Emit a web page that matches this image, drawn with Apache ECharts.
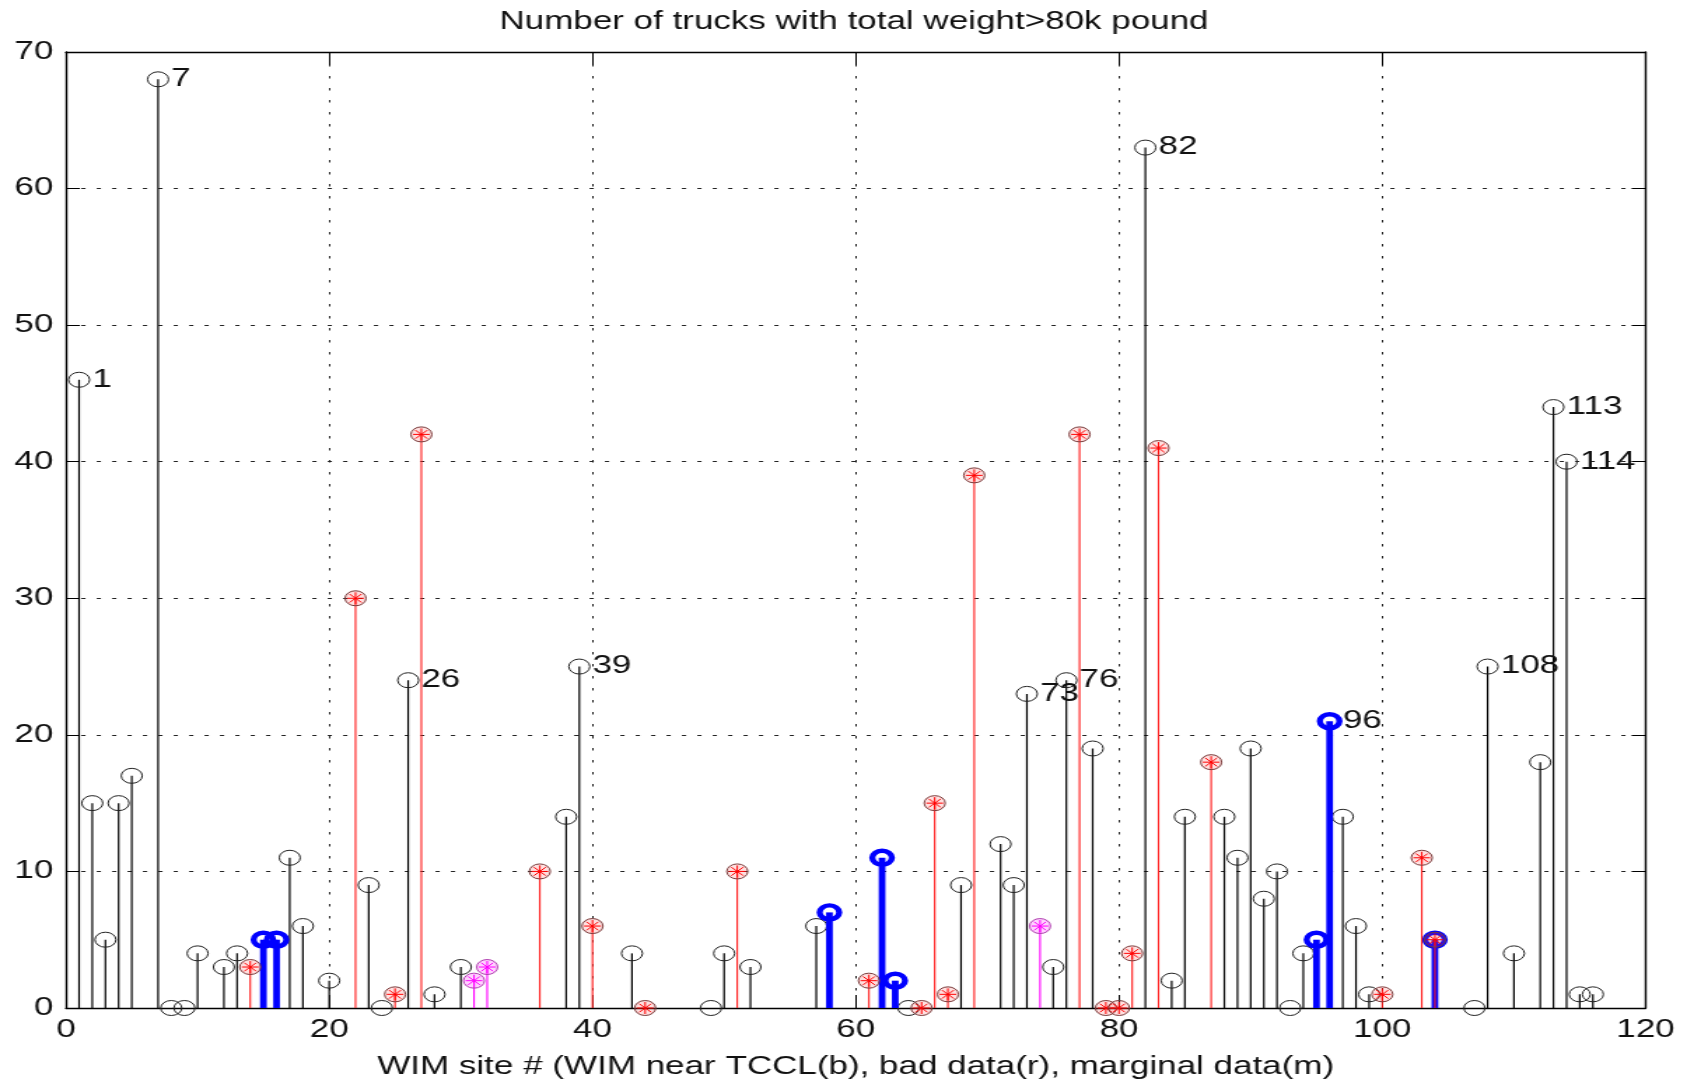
<!DOCTYPE html>
<html><head><meta charset="utf-8">
<script src="https://cdn.jsdelivr.net/npm/echarts@6.0.0/dist/echarts.min.js"></script>
<style>
html,body{margin:0;padding:0;background:#fff;overflow:hidden;width:1690px;height:1085px;}
#c{width:1207px;height:1085px;transform:scaleX(1.4);transform-origin:0 0;}
</style></head><body><div id="c"></div>
<script>
// ---- data (site number -> number of trucks) ----
const titleText = 'Number of trucks with total weight>80k pound';
const xAxisLabel = 'WIM site # (WIM near TCCL(b), bad data(r), marginal data(m)';

const blackSites  = [1,2,3,4,5,7,8,9,10,12,13,17,18,20,23,24,26,28,30,38,39,43,49,50,52,57,64,68,71,72,73,75,76,78,82,84,85,88,89,90,91,92,93,94,97,98,99,107,108,110,112,113,114,115,116];
const blackValues = [46,15,5,15,17,68,0,0,4,3,4,11,6,2,9,0,24,1,3,14,25,4,0,4,3,6,0,9,12,9,23,3,24,19,63,2,14,14,11,19,8,10,0,4,14,6,1,0,25,4,18,44,40,1,1];

const blueSites   = [15,16,58,62,63,95,96,104];
const blueValues  = [5,5,7,11,2,5,21,5];

const redSites    = [14,22,25,27,36,40,44,51,61,65,66,67,69,77,79,80,81,83,87,100,103,104];
const redValues   = [3,30,1,42,10,6,0,10,2,0,15,1,39,42,0,0,4,41,18,1,11,5];

const magentaSites  = [31,32,74];
const magentaValues = [2,3,6];

const labeledSites = [1,7,26,39,73,76,82,96,108,113,114];

const xMin = 0, xMax = 120, xStep = 20;
const yMin = 0, yMax = 70, yStep = 10;

// ---- build ----
const FONT = '"Liberation Sans", Arial, Helvetica, sans-serif';
const allSites = blackSites.concat(blueSites, redSites, magentaSites);
const allValues = blackValues.concat(blueValues, redValues, magentaValues);
function valueOf(s){ return allValues[allSites.indexOf(s)]; }

function makeStem(name, sites, values, st){
  return {
    type:'custom', name:name, xAxisIndex:0, yAxisIndex:0,
    data: sites.map((s,i)=>[s, values[i]]),
    encode:{x:0, y:1}, silent:true, animation:false, clip:false,
    renderItem:function(params, api){
      const x = api.value(0), y = api.value(1);
      const top = api.coord([x, y]), base = api.coord([x, 0]);
      const ch = [{type:'line', shape:{x1:base[0], y1:base[1], x2:top[0], y2:top[1]},
                   style:{stroke:st.stem, lineWidth:st.stemWidth}}];
      ch.push({type:'circle', shape:{cx:top[0], cy:top[1], r:st.r},
               style:{fill:st.fill || 'none', stroke:st.ring, lineWidth:st.ringWidth}});
      if (st.star){
        const a = st.starR;
        for (let k=0;k<4;k++){
          const ang = k*Math.PI/4;
          ch.push({type:'line', shape:{x1:top[0]-a*Math.cos(ang), y1:top[1]-a*Math.sin(ang),
                                        x2:top[0]+a*Math.cos(ang), y2:top[1]+a*Math.sin(ang)},
                   style:{stroke:st.star, lineWidth:1}});
        }
      }
      return {type:'group', children:ch};
    }
  };
}

const chart = echarts.init(document.getElementById('c'), null, {renderer:'canvas'});
const axisLineStyle = {color:'#000', width:1.4};
chart.setOption({
  animation:false,
  backgroundColor:'#fff',
  title:{text:titleText, left:605, top:5, textAlign:'center',
         textStyle:{fontFamily:FONT, fontSize:25, fontWeight:'normal', color:'#111'}},
  grid:{left:47.1, right:31.6, top:52, bottom:71, containLabel:false},
  xAxis:[
    {type:'value', min:xMin, max:xMax, interval:xStep, position:'bottom',
     axisLine:{show:true, onZero:false, lineStyle:axisLineStyle},
     axisTick:{show:true, inside:true, length:13, lineStyle:{color:'#000', width:1}},
     axisLabel:{fontFamily:FONT, fontSize:25, color:'#111', margin:10},
     splitLine:{show:true, lineStyle:{color:'#222', width:1, type:[2.5, 9.5]}},
     name:xAxisLabel, nameLocation:'middle', nameGap:47,
     nameTextStyle:{fontFamily:FONT, fontSize:25, color:'#111'}},
    {type:'value', min:xMin, max:xMax, interval:xStep, position:'top',
     axisLine:{show:true, onZero:false, lineStyle:axisLineStyle},
     axisTick:{show:true, inside:true, length:13, lineStyle:{color:'#000', width:1}},
     axisLabel:{show:false}, splitLine:{show:false}}
  ],
  yAxis:[
    {type:'value', min:yMin, max:yMax, interval:yStep, position:'left',
     axisLine:{show:true, onZero:false, lineStyle:axisLineStyle},
     axisTick:{show:true, inside:true, length:10, lineStyle:{color:'#000', width:1}},
     axisLabel:{fontFamily:FONT, fontSize:25, color:'#111', margin:9},
     splitLine:{show:true, lineStyle:{color:'#222', width:1, type:[3, 8]}}},
    {type:'value', min:yMin, max:yMax, interval:yStep, position:'right',
     axisLine:{show:true, onZero:false, lineStyle:axisLineStyle},
     axisTick:{show:true, inside:true, length:10, lineStyle:{color:'#000', width:1}},
     axisLabel:{show:false}, splitLine:{show:false}}
  ],
  series:[
    makeStem('TCCL', blackSites, blackValues, {stem:'#000', stemWidth:1.2, ring:'#222', ringWidth:1, r:7.5}),
    makeStem('near TCCL', blueSites, blueValues, {stem:'#0000ff', stemWidth:4.8, ring:'#0000ff', ringWidth:4.4, r:7}),
    makeStem('bad', redSites, redValues, {stem:'#ff1a1a', stemWidth:1.1, ring:'#7a3a3a', ringWidth:1, r:7.5, fill:'rgba(255,80,80,0.18)', star:'#ff0000', starR:6}),
    makeStem('marginal', magentaSites, magentaValues, {stem:'#ff00ff', stemWidth:1.1, ring:'#b040b0', ringWidth:1, r:7.5, fill:'rgba(255,0,255,0.18)', star:'#ff00ff', starR:6}),
    {type:'custom', name:'labels', xAxisIndex:0, yAxisIndex:0, silent:true, animation:false, clip:false,
     data: labeledSites.map(s=>[s, valueOf(s)]), encode:{x:0, y:1},
     renderItem:function(params, api){
       const c = api.coord([api.value(0)+1, api.value(1)]);
       return {type:'text', x:c[0], y:c[1],
               style:{text:String(api.value(0)), fill:'#111', font:'25px ' + FONT,
                      align:'left', verticalAlign:'middle', textAlign:'left', textVerticalAlign:'middle'}};
     }}
  ]
});
</script></body></html>
